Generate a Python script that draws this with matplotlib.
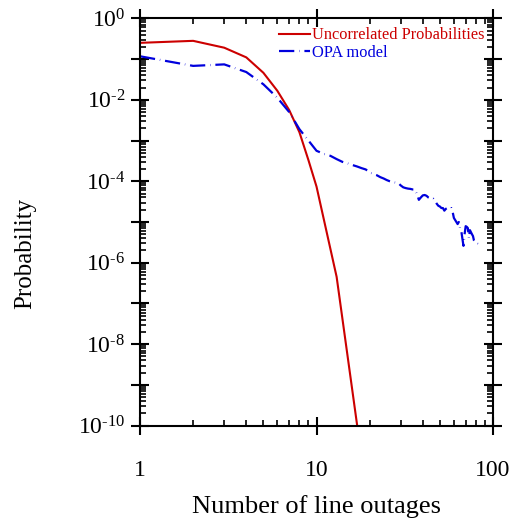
import numpy as np
import matplotlib
matplotlib.use('Agg')
import matplotlib.pyplot as plt
from matplotlib.ticker import LogLocator, FuncFormatter, NullFormatter

plt.rcParams['font.family'] = ['Liberation Serif', 'DejaVu Serif']
plt.rcParams['mathtext.fontset'] = 'custom'
plt.rcParams['mathtext.rm'] = 'Liberation Serif'
plt.rcParams['mathtext.it'] = 'Liberation Serif:italic'
plt.rcParams['lines.scale_dashes'] = False

# uncorrelated (independent) outage probabilities
unc_x = [1, 2, 3, 4, 5, 6, 7, 8, 9, 10, 13, 17]
unc_p = [0.25, 0.28, 0.19, 0.11, 0.046, 0.0166, 0.0056, 1.6e-3, 3.3e-4,
         7.4e-5, 4.5e-7, 1.0e-10]

# OPA model results
opa_x = list(range(1, 80)) + [80, 82, 84, 86]
opa_p = [0.117, 0.068, 0.074, 0.048, 0.024, 0.0112, 5.0e-3, 1.9e-3, 1.0e-3, 5.6e-4,
         4.7e-4, 4.2e-4, 3.5e-4, 3.0e-4, 2.75e-4, 2.5e-4, 2.3e-4, 2.1e-4, 1.95e-4, 1.66e-4,
         1.5e-4, 1.4e-4, 1.26e-4, 1.17e-4, 1.07e-4, 1.0e-4, 9.5e-5, 9.3e-5, 9.1e-5, 7.9e-5,
         7.1e-5, 6.8e-5, 6.6e-5, 6.5e-5, 6.3e-5, 6.3e-5, 5.0e-5, 3.5e-5, 4.0e-5, 4.5e-5,
         4.6e-5, 4.4e-5, 4.0e-5, 3.8e-5, 3.6e-5, 3.7e-5, 3.3e-5, 2.8e-5, 2.5e-5, 2.4e-5,
         2.2e-5, 2.2e-5, 1.9e-5, 2.1e-5, 2.2e-5, 2.2e-5, 2.1e-5, 2.2e-5, 1.8e-5, 1.26e-5,
         1.12e-5, 1.0e-5, 8.9e-6, 1.0e-5, 7.1e-6, 6.3e-6, 4.0e-6, 2.6e-6, 5.0e-6, 7.9e-6,
         7.6e-6, 7.1e-6, 4.0e-6, 6.3e-6, 5.6e-6, 5.0e-6, 4.5e-6, 3.5e-6, 3.2e-6,
         3.0e-6, 2.9e-6, 2.7e-6, 2.5e-6]

fig = plt.figure(figsize=(5.14, 5.19), dpi=100)
ax = fig.add_axes([0.2724, 0.1798, 0.6868, 0.7849])

ax.plot(unc_x, unc_p, color='#cc0000', lw=1.5, label='Uncorrelated Probabilities')
ax.plot(opa_x, opa_p, color='#0000dd', lw=1.6, dashes=(11, 3.5, 0.3, 3.5),
        label='OPA model')

ax.set_xscale('log')
ax.set_yscale('log')
ax.set_xlim(1, 100)
ax.set_ylim(1e-10, 1)

ax.xaxis.set_major_locator(LogLocator(base=10, numticks=5))
ax.xaxis.set_minor_locator(LogLocator(base=10, subs=range(2, 10), numticks=5))
ax.yaxis.set_major_locator(LogLocator(base=10, numticks=15))
ax.yaxis.set_minor_locator(LogLocator(base=10, subs=range(2, 10), numticks=15))

ax.xaxis.set_major_formatter(FuncFormatter(lambda v, p: '%d' % round(v)))
def ylab(v, p):
    e = int(round(np.log10(v)))
    if e % 2:
        return ''
    s = str(e).replace('-', '\u2010')
    return r'$\mathregular{10^{%s}}$' % s
ax.yaxis.set_major_formatter(FuncFormatter(ylab))
ax.xaxis.set_minor_formatter(NullFormatter())
ax.yaxis.set_minor_formatter(NullFormatter())

for s in ax.spines.values():
    s.set_linewidth(1.5)
ax.tick_params(which='major', direction='inout', length=13, width=1.5,
               top=True, right=True, labelsize=17)
ax.tick_params(which='minor', direction='in', length=4, width=1.2,
               top=True, right=True)
ax.tick_params(axis='x', which='major', pad=18)
ax.tick_params(axis='y', which='major', pad=4)

ax.set_xlabel('Number of line outages', fontsize=19, labelpad=10)
ax.set_ylabel('Probability', fontsize=18)
ax.yaxis.set_label_coords(-0.294, 0.424)

leg = ax.legend(loc='upper right', frameon=False, fontsize=11.8,
                handlelength=1.9, handletextpad=0.1, labelspacing=0.1,
                borderaxespad=0.35, borderpad=0.2)
for t, c in zip(leg.get_texts(), ['#cc0000', '#0000dd']):
    t.set_color(c)

fig.savefig('out.png', dpi=100)
